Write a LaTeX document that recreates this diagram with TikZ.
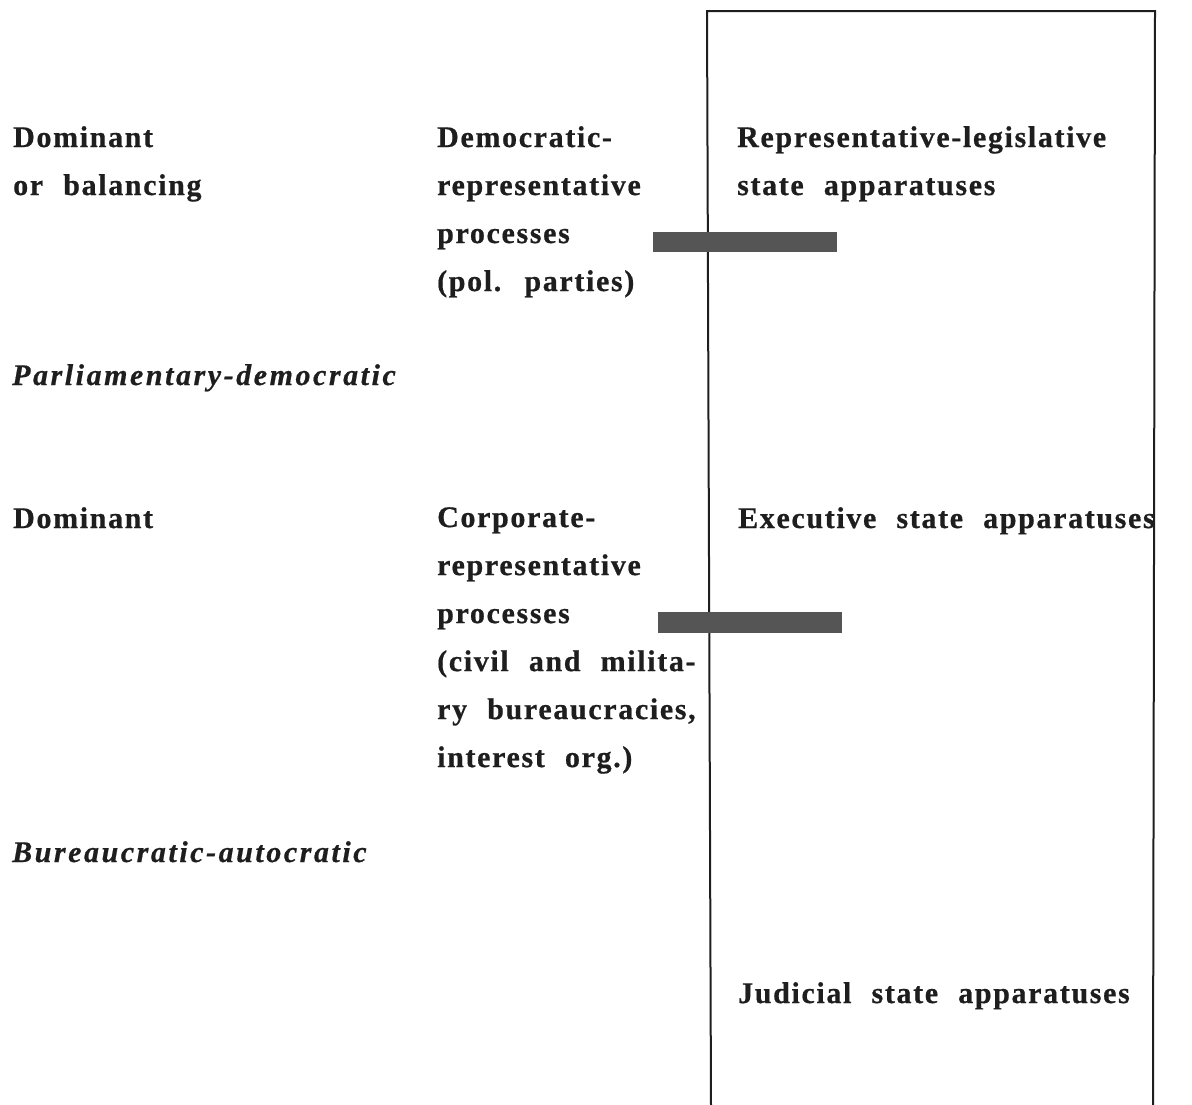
\documentclass[tikz,border=0pt]{standalone}
\usepackage{fontspec}
\setmainfont{Liberation Serif}[LetterSpace=5.5,WordSpace=2.2,
  BoldFeatures={FakeBold=0.6},
  BoldItalicFeatures={LetterSpace=8.5,FakeBold=0.6}]
\begin{document}
\begin{tikzpicture}[x=1pt,y=-1pt,
  lbl/.style={anchor=base west,inner sep=0pt,text=ink,
    font=\fontsize{30}{48}\selectfont\bfseries},
  lblit/.style={lbl,font=\fontsize{30}{48}\selectfont\bfseries\itshape},
  frame/.style={draw=ink,line width=2pt},
  bar/.style={fill=bargray,draw=none}]
\definecolor{ink}{HTML}{1E1E1E}
\definecolor{bargray}{HTML}{555555}
\useasboundingbox (0,0) rectangle (1192,1104);

% state apparatus frame (open at the foot of the page)
\coordinate (fbl) at (711,1106);
\coordinate (ftl) at (707,11);
\coordinate (ftr) at (1155,11);
\coordinate (fbr) at (1153,1106);
\draw[frame] (fbl) -- (ftl) -- (ftr) -- (fbr);

% first row
\node[lbl] (dom1) at (13,147) {Dominant};
\node[lbl] (bal) at (13,195) {or balancing};
\node[lbl,align=left,anchor=north west] (demrep) at (437,126)
  {Democratic-\\representative\\processes\\(pol. parties)};
\node[lbl,align=left,anchor=north west] (replegis) at (737,126)
  {Representative-legislative\\state apparatuses};
\node[lblit] (parl) at (12,385) {Parliamentary-democratic};

% second row
\node[lbl] (dom2) at (13,528) {Dominant};
\node[lbl,align=left,anchor=north west] (corprep) at (437,507)
  {Corporate-\\representative\\processes\\(civil and milita-\\ry bureaucracies,\\interest org.)};
\node[lbl] (exec) at (738,528) {Executive state apparatuses};
\node[lblit] (bur) at (12,862) {Bureaucratic-autocratic};

% third row
\node[lbl] (jud) at (738,1003) {Judicial state apparatuses};

% links across the frame
\coordinate (b1a) at (653,232); \coordinate (b1b) at (837,252);
\coordinate (b2a) at (658,612); \coordinate (b2b) at (842,633);
\fill[bar] (b1a) rectangle (b1b);
\fill[bar] (b2a) rectangle (b2b);
\end{tikzpicture}
\end{document}
